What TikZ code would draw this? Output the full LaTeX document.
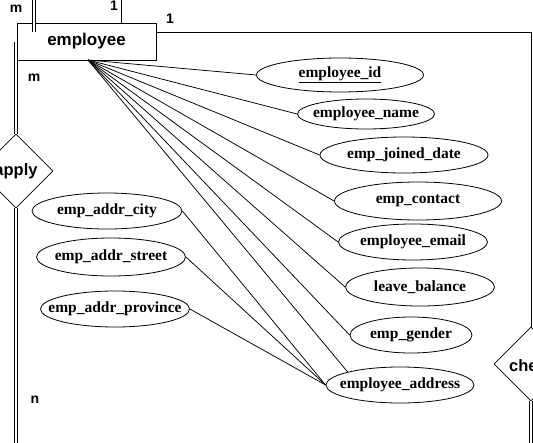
\documentclass[tikz,border=0pt]{standalone}
\usepackage{fontspec}
\setmainfont{Liberation Serif}
\setsansfont{Liberation Sans}
\usetikzlibrary{shapes.geometric}
\begin{document}
\begin{tikzpicture}[x=1pt,y=-1pt,
  attr/.style={draw, ellipse, line width=0.8pt, inner sep=0pt, font=\fontsize{15.5}{18}\selectfont\bfseries},
  ent/.style={draw, rectangle, line width=0.9pt, inner sep=0pt, minimum width=139pt, minimum height=37pt, font=\fontsize{17}{20}\selectfont\sffamily\bfseries},
  rel/.style={draw, diamond, line width=0.8pt, inner sep=0pt, minimum width=74pt, minimum height=74pt, font=\fontsize{16.5}{20}\selectfont\sffamily\bfseries},
  card/.style={font=\fontsize{14}{16}\selectfont\sffamily\bfseries, inner sep=0pt},
  link/.style={draw, line width=0.75pt},
  dbl/.style={draw, double, double distance=2.6pt, line width=0.7pt}]
\useasboundingbox (0,0) rectangle (533,442);
\clip (0,0) rectangle (533,442);
\fill[white] (0,0) rectangle (533,442);

% entity and relationships
\node[ent] (emp) at (86.5,41.5) {employee};
\node[rel] (apply) at (16,171) {\makebox[0pt]{apply}};
\node[rel] (che) at (531,364) {};
\node[font=\fontsize{16.5}{20}\selectfont\sffamily\bfseries, anchor=west, inner sep=0pt] (chet) at (509,366) {che};

% attributes
\node[attr, minimum width=167pt, minimum height=34pt] (eid) at (340,75) {\makebox[0pt]{\underline{employee\_id}}};
\node[attr, minimum width=137pt, minimum height=30pt] (ename) at (366,114) {\makebox[0pt]{employee\_name}};
\node[attr, minimum width=168pt, minimum height=36pt] (ejd) at (404,155) {\makebox[0pt]{emp\_joined\_date}};
\node[attr, minimum width=167pt, minimum height=38pt] (econ) at (418,201) {\makebox[0pt]{emp\_contact}};
\node[attr, minimum width=149pt, minimum height=36pt] (email) at (413,242) {\makebox[0pt]{employee\_email}};
\node[attr, minimum width=149pt, minimum height=38pt] (leave) at (420,287) {\makebox[0pt]{leave\_balance}};
\node[attr, minimum width=122pt, minimum height=36pt] (gender) at (411,335) {\makebox[0pt]{emp\_gender}};
\node[attr, minimum width=148pt, minimum height=36pt] (addr) at (400,385) {\makebox[0pt]{employee\_address}};
\node[attr, minimum width=150pt, minimum height=36pt] (city) at (107,211) {\makebox[0pt]{emp\_addr\_city}};
\node[attr, minimum width=149pt, minimum height=38pt] (street) at (111,257) {\makebox[0pt]{emp\_addr\_street}};
\node[attr, minimum width=149pt, minimum height=36pt] (prov) at (115,309) {\makebox[0pt]{emp\_addr\_province}};

% fan of attribute links
\coordinate (f) at (88,60);
\draw[link] (f) -- (eid.west);
\draw[link] (f) -- (ename.west);
\draw[link] (f) -- (ejd.west);
\draw[link] (f) -- (econ.west);
\draw[link] (f) -- (email.west);
\draw[link] (f) -- (leave.west);
\draw[link] (f) -- (gender.west);
\draw[link] (f) -- (addr.166);
\draw[link] (city.east) -- (addr.west);
\draw[link] (street.east) -- (addr.west);
\draw[link] (prov.east) -- (addr.west);

% relationship connectors
\coordinate (l1) at (16,42);
\coordinate (lb) at (16,446);
\draw[dbl] (l1) -- (apply.north);
\draw[dbl] (apply.south) -- (lb);
\coordinate (t1) at (34,-4);
\coordinate (t2) at (34,32);
\draw[dbl] (t1) -- (t2);
\coordinate (t3) at (121,-4);
\draw[link] (t3) -- (t3 |- emp.north);
\coordinate (r0) at (156,32);
\coordinate (r1) at (531,32);
\draw[link] (r0) -- (r1) -- (che.north);
\coordinate (rb) at (531,446);
\draw[dbl] (che.south) -- (rb);

% cardinalities
\node[card] (m1) at (16,9) {m};
\node[card] (o1) at (114,6) {1};
\node[card] (o2) at (170,19) {1};
\node[card] (m2) at (34,78) {m};
\node[card] (n1) at (35,400) {n};
\end{tikzpicture}
\end{document}
